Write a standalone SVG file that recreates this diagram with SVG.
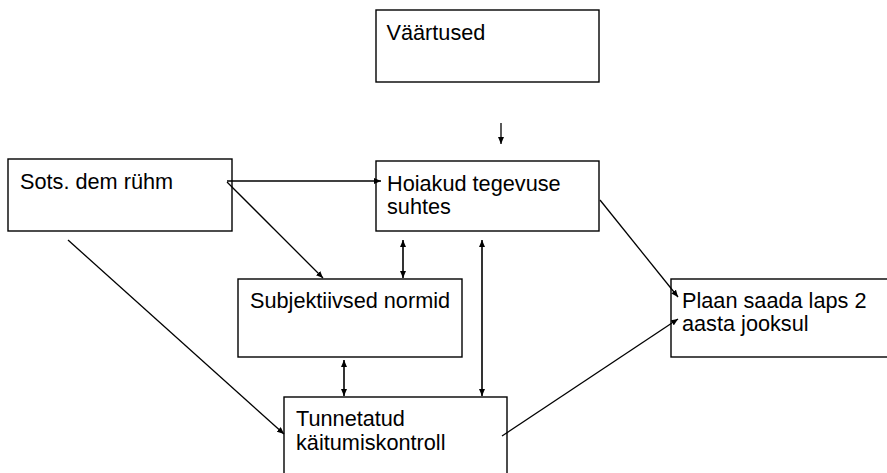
<svg xmlns="http://www.w3.org/2000/svg" width="887" height="473" viewBox="0 0 887 473">
<style>
.box{fill:#fff;stroke:#000;stroke-width:1.4}
.t{font-family:"Liberation Sans",Arial,sans-serif;font-size:21.7px;fill:#000}
.c{stroke:#000;stroke-width:1.3;fill:none}
.d{stroke:#000;stroke-width:1.6;fill:none}
</style>
<defs>
<marker id="ah" viewBox="0 0 7 6" refX="7" refY="3" markerWidth="7" markerHeight="6" markerUnits="userSpaceOnUse" orient="auto-start-reverse">
<path d="M0,0 L7,3 L0,6 z" fill="#000"/>
</marker>
</defs>
<rect width="887" height="473" fill="#fff"/>
<g id="n-vaartused"><rect class="box" x="376" y="10" width="223" height="72"/><text class="t" x="386.5" y="40">Väärtused</text></g>
<g id="n-sots"><rect class="box" x="8" y="159" width="224" height="72"/><text class="t" x="20" y="189">Sots. dem rühm</text></g>
<g id="n-hoiakud"><rect class="box" x="376" y="161" width="223" height="70"/><text class="t" x="387" y="190.5">Hoiakud tegevuse</text><text class="t" x="387" y="214">suhtes</text></g>
<g id="n-subj"><rect class="box" x="238" y="279" width="224" height="78"/><text class="t" x="250" y="307.5">Subjektiivsed normid</text></g>
<g id="n-tunn"><rect class="box" x="284" y="397" width="223" height="90"/><text class="t" x="296" y="426">Tunnetatud</text><text class="t" x="296" y="450">käitumiskontroll</text></g>
<g id="n-plaan"><rect class="box" x="671" y="279" width="230" height="78"/><text class="t" x="682" y="307.5">Plaan saada laps 2</text><text class="t" x="682" y="331">aasta jooksul</text></g>
<g id="connectors">
<line class="c" x1="501" y1="123" x2="501" y2="144" marker-end="url(#ah)"/>
<line class="c" x1="227" y1="181" x2="381" y2="181" marker-end="url(#ah)"/>
<line class="c" x1="227" y1="182" x2="323" y2="278" marker-end="url(#ah)"/>
<line class="c" x1="68" y1="240" x2="284" y2="434" marker-end="url(#ah)"/>
<line class="d" x1="403" y1="240" x2="403" y2="278" marker-start="url(#ah)" marker-end="url(#ah)"/>
<line class="d" x1="344" y1="360" x2="344" y2="396" marker-start="url(#ah)" marker-end="url(#ah)"/>
<line class="d" x1="482" y1="240" x2="482" y2="396" marker-start="url(#ah)" marker-end="url(#ah)"/>
<line class="c" x1="600" y1="200" x2="678" y2="297" marker-end="url(#ah)"/>
<line class="c" x1="502" y1="436" x2="678" y2="319" marker-end="url(#ah)"/>
</g>
</svg>
